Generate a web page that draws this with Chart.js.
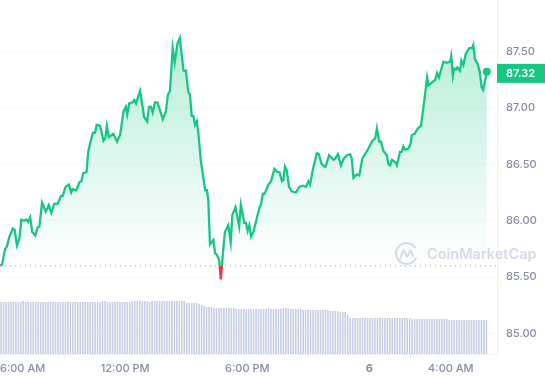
<!DOCTYPE html>
<html>
<head>
<meta charset="utf-8">
<style>
  html, body { margin: 0; background: #fff; }
  canvas { display: block; }
</style>
<script src="https://cdn.jsdelivr.net/npm/chart.js@4/dist/chart.umd.min.js"></script>
</head>
<body>
<canvas id="price" width="545" height="380"></canvas>
<script>
// minutes after 6:00 AM
var minutes = [-9, -3, 6, 11, 19, 29, 34, 41, 48, 54, 62, 68, 74, 80, 86, 95, 102, 107, 115, 126,
  135, 142, 151, 161, 171, 176, 184, 194, 201, 205, 216, 225, 231, 236, 246, 251, 257, 265, 271, 276,
  286, 296, 302, 306, 312, 325, 336, 345, 355, 362, 366, 372, 382, 387, 392, 404, 416, 425, 430, 436,
  441, 448, 455, 471, 480, 486, 492, 500, 506, 514, 521, 532, 539, 546, 551, 556, 561, 566, 571, 576,
  583, 596, 601, 605, 610, 620, 625, 630, 637, 642, 648, 654, 664, 671, 676, 685, 696, 701, 711, 716,
  721, 726, 731, 738, 756, 760, 766, 771, 782, 790, 800, 809, 815, 822, 826, 831, 836, 843, 851, 863,
  873, 885, 893, 900, 905, 913, 925, 931, 938, 947, 951, 961, 974, 979, 987, 996, 1004, 1014, 1023, 1028,
  1033, 1043, 1050, 1059, 1077, 1089, 1097, 1102, 1109, 1114, 1121, 1131, 1136, 1141, 1146, 1156, 1161, 1170, 1175, 1180,
  1185, 1195, 1202, 1205, 1213, 1223, 1232, 1241, 1250, 1254, 1274, 1279, 1285, 1298, 1308, 1318, 1321, 1326, 1329, 1336,
  1339, 1347, 1351, 1357, 1364, 1374, 1382, 1386, 1391, 1399, 1405, 1411, 1415, 1426];

var prices = [85.60, 85.61, 85.75, 85.77, 85.86, 85.93, 85.92, 85.78, 85.84, 86.01, 86.00, 86.01, 85.99, 86.03, 85.90, 85.87, 85.94, 85.95, 86.16, 86.08,
  86.14, 86.07, 86.15, 86.15, 86.22, 86.22, 86.30, 86.32, 86.25, 86.28, 86.27, 86.34, 86.35, 86.42, 86.43, 86.61, 86.69, 86.78, 86.78, 86.85,
  86.84, 86.71, 86.74, 86.84, 86.74, 86.77, 86.70, 86.76, 86.97, 87.01, 86.94, 87.04, 87.05, 87.07, 87.04, 87.15, 86.92, 86.88, 87.01, 87.01,
  86.96, 87.05, 87.05, 86.90, 86.97, 87.12, 87.15, 87.53, 87.40, 87.57, 87.62, 87.33, 87.33, 87.14, 87.12, 86.93, 86.93, 86.85, 86.88, 86.77,
  86.53, 86.27, 86.27, 86.18, 85.79, 85.83, 85.71, 85.70, 85.65, 85.48, 85.71, 85.90, 85.96, 85.81, 86.05, 86.12, 85.95, 86.14, 85.98, 85.98,
  85.91, 85.96, 85.86, 85.90, 86.12, 86.14, 86.24, 86.24, 86.32, 86.35, 86.46, 86.43, 86.43, 86.35, 86.36, 86.48, 86.45, 86.30, 86.26, 86.25,
  86.30, 86.31, 86.30, 86.35, 86.32, 86.45, 86.60, 86.59, 86.51, 86.48, 86.48, 86.58, 86.54, 86.55, 86.59, 86.49, 86.55, 86.58, 86.59, 86.55,
  86.38, 86.41, 86.40, 86.55, 86.64, 86.71, 86.73, 86.82, 86.70, 86.70, 86.62, 86.58, 86.50, 86.49, 86.54, 86.52, 86.49, 86.61, 86.61, 86.66,
  86.63, 86.64, 86.69, 86.76, 86.77, 86.82, 86.84, 87.05, 87.27, 87.20, 87.25, 87.31, 87.27, 87.41, 87.40, 87.41, 87.46, 87.29, 87.35, 87.34,
  87.36, 87.33, 87.42, 87.38, 87.48, 87.53, 87.53, 87.56, 87.43, 87.39, 87.32, 87.18, 87.16, 87.32];

// volume in millions, one bar every 7.3 minutes from the start of the window
var volumes = [520, 520, 520, 520, 520, 520, 520, 520, 520, 530, 520, 520, 520, 520, 520, 520, 520, 520, 520, 520,
  520, 520, 520, 520, 520, 520, 520, 520, 520, 520, 520, 520, 520, 520, 520, 520, 520, 520, 520, 520,
  520, 530, 530, 520, 520, 520, 520, 520, 520, 520, 520, 520, 520, 530, 530, 530, 530, 530, 530, 530,
  520, 530, 530, 530, 530, 530, 530, 530, 530, 530, 530, 530, 530, 530, 530, 510, 510, 510, 510, 510,
  500, 490, 480, 470, 470, 470, 460, 460, 460, 460, 460, 460, 460, 460, 460, 450, 450, 450, 450, 450,
  450, 450, 450, 450, 450, 450, 450, 450, 460, 450, 450, 450, 450, 450, 460, 460, 460, 450, 450, 450,
  450, 450, 440, 440, 440, 440, 440, 440, 440, 440, 440, 440, 440, 430, 430, 430, 430, 420, 420, 420,
  390, 360, 360, 360, 360, 360, 360, 360, 360, 360, 360, 360, 360, 360, 360, 360, 360, 360, 360, 360,
  360, 360, 360, 360, 360, 360, 350, 350, 350, 350, 350, 350, 350, 350, 350, 350, 350, 350, 350, 350,
  350, 340, 340, 340, 340, 340, 340, 340, 340, 340, 340, 340, 340, 340, 340, 340, 340];
var volumeStep = 7.3;

var baseLine = 85.60;
var priceTicks = [85, 85.5, 86, 86.5, 87, 87.5];
var timeTicks = [0, 360, 720, 1080, 1320];
var timeLabels = ['6:00 AM', '12:00 PM', '6:00 PM', '6', '4:00 AM'];

var xMin = -9, xMax = 1456;
var yMin = 84.818, yMax = 87.957;
var green = '#16c784';
var red = '#ea3943';
var labelColor = '#858ca2';
var lineColor = '#eff2f5';
var inter = 'Inter, "Open Sans", sans-serif';

function pairs(xs, ys) {
  return ys.map(function (y, i) { return { x: xs[i], y: y }; });
}

var volumeData = volumes.map(function (v, i) {
  return { x: xMin + 3 + i * volumeStep, y: v };
});

// first label sits at the left edge, the real 6:00 AM mark has no text, last tick is only there for align inner
var xTickValues = [xMin].concat(timeTicks, [xMax]);
var xTickLabels = [timeLabels[0], ''].concat(timeLabels.slice(1), ['']);

function priceStroke(context) {
  var chart = context.chart;
  if (!chart.chartArea) return green;
  var split = chart.scales.y.getPixelForValue(baseLine) / chart.height;
  var g = chart.ctx.createLinearGradient(0, 0, 0, chart.height);
  g.addColorStop(0, green);
  g.addColorStop(split, green);
  g.addColorStop(split, red);
  g.addColorStop(1, red);
  return g;
}

function priceFill(context) {
  var chart = context.chart;
  if (!chart.chartArea) return 'transparent';
  var top = chart.scales.y.getPixelForValue(yMax);
  var base = chart.scales.y.getPixelForValue(baseLine);
  var g = chart.ctx.createLinearGradient(0, top, 0, base + 20);
  var split = (base - top) / (base + 20 - top);
  g.addColorStop(0, 'rgba(22, 199, 132, 0.36)');
  g.addColorStop(split, 'rgba(22, 199, 132, 0)');
  g.addColorStop(split, 'rgba(234, 57, 67, 0.5)');
  g.addColorStop(1, 'rgba(234, 57, 67, 0.5)');
  return g;
}

var overlay = {
  id: 'overlay',
  afterDraw: function (chart) {
    var ctx = chart.ctx;
    var last = prices[prices.length - 1];
    var y = chart.scales.y.getPixelForValue(last);
    var right = chart.chartArea.right;

    ctx.save();
    ctx.fillStyle = green;
    ctx.fillRect(right, y - 8, chart.width - right, 19);
    ctx.fillStyle = '#fff';
    ctx.font = '600 11px ' + inter;
    ctx.textAlign = 'left';
    ctx.textBaseline = 'middle';
    ctx.fillText(last.toFixed(2), 506, y + 1.5);

    // watermark
    ctx.strokeStyle = '#d5dae8';
    ctx.lineWidth = 2;
    ctx.lineCap = 'round';
    ctx.lineJoin = 'round';
    ctx.beginPath();
    ctx.arc(406.5, 253.5, 10.5, 0.45, Math.PI * 2 - 0.1 + 0.45 - 1.0, false);
    ctx.stroke();
    ctx.beginPath();
    ctx.moveTo(400, 259);
    ctx.lineTo(403.5, 250);
    ctx.lineTo(407, 257);
    ctx.lineTo(410.5, 250);
    ctx.lineTo(413, 256);
    ctx.stroke();
    ctx.fillStyle = '#d5dae8';
    ctx.font = '600 14.5px ' + inter;
    ctx.fillText('CoinMarketCap', 427, 255);
    ctx.restore();
  }
};

var chart = new Chart(document.getElementById('price'), {
  type: 'line',
  plugins: [overlay],
  data: {
    datasets: [
      {
        type: 'line',
        data: pairs(minutes, prices),
        yAxisID: 'y',
        borderColor: priceStroke,
        backgroundColor: priceFill,
        borderWidth: 2.3,
        tension: 0,
        fill: { target: { value: baseLine } },
        clip: false,
        pointRadius: function (c) { return c.dataIndex === prices.length - 1 ? 4 : 0; },
        pointBackgroundColor: green,
        pointBorderWidth: 0,
        order: 1
      },
      {
        type: 'line',
        data: [{ x: xMin, y: baseLine }, { x: xMax, y: baseLine }],
        yAxisID: 'y',
        borderColor: '#99a2b6',
        borderWidth: 1,
        borderDash: [1, 4],
        pointRadius: 0,
        fill: false,
        order: 0
      },
      {
        type: 'bar',
        data: volumeData,
        yAxisID: 'vol',
        backgroundColor: '#c6cfe1',
        barThickness: 1.6,
        inflateAmount: 0,
        order: 2
      }
    ]
  },
  options: {
    responsive: false,
    animation: false,
    events: [],
    layout: { padding: 0, autoPadding: false },
    plugins: { legend: { display: false }, tooltip: { enabled: false } },
    scales: {
      x: {
        type: 'linear',
        offset: false,
        min: xMin,
        max: xMax,
        afterBuildTicks: function (scale) {
          scale.ticks = xTickValues.map(function (v) { return { value: v }; });
        },
        afterFit: function (scale) {
          scale.height = 26;
          scale.paddingLeft = 0;
          scale.paddingRight = 0;
        },
        border: { color: lineColor },
        grid: {
          drawOnChartArea: false,
          tickLength: 4,
          tickColor: function (c) {
            return c.index === 0 || c.index === xTickValues.length - 1 ? 'transparent' : lineColor;
          }
        },
        ticks: {
          autoSkip: false,
          maxRotation: 0,
          align: 'inner',
          padding: 4,
          color: labelColor,
          font: function (c) {
            var bold = c.tick && c.tick.value === 1080;
            return { family: inter, size: 11, weight: bold ? 700 : 500 };
          },
          callback: function (v, i) { return xTickLabels[i]; }
        }
      },
      y: {
        position: 'right',
        min: yMin,
        max: yMax,
        afterBuildTicks: function (scale) {
          scale.ticks = priceTicks.map(function (v) { return { value: v }; });
        },
        afterFit: function (scale) {
          scale.width = 48;
          scale.paddingTop = 0;
          scale.paddingBottom = 0;
        },
        border: { color: lineColor },
        grid: { color: '#f7f8fa', drawTicks: false },
        ticks: {
          padding: 9,
          color: labelColor,
          font: { family: inter, size: 11, weight: 500 },
          callback: function (v) { return v.toFixed(2); }
        }
      },
      vol: {
        display: false,
        min: 0,
        max: 3540
      }
    }
  }
});
</script>
</body>
</html>
